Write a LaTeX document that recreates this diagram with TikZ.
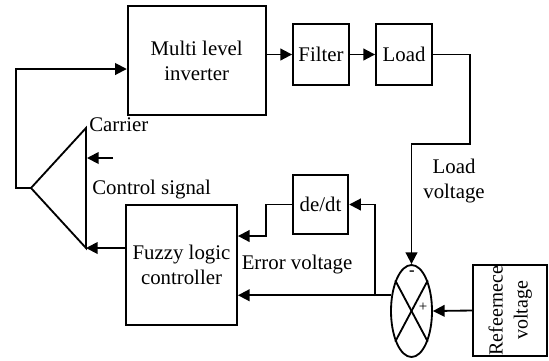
\documentclass[tikz,border=0pt]{standalone}
\usepackage{fontspec}
\setmainfont{Liberation Serif}
\usetikzlibrary{arrows.meta,shapes.geometric}
\tikzset{
	blk/.style={draw,line width=1.1pt,inner sep=0pt,align=center,font=\fontsize{12.5}{15}\selectfont},
	arr/.style={line width=1.1pt,-{Triangle[length=7pt,width=7pt]}},
	ln/.style={line width=1.1pt},
	lbl/.style={font=\fontsize{12.5}{15}\selectfont,inner sep=0pt,align=center}
}
\begin{document}
\begin{tikzpicture}[x=0.6pt,y=-0.6pt]
	\useasboundingbox (0,0) rectangle (549,360);
	% blocks
	\node[blk,minimum width=82.8pt,minimum height=65.4pt] (inv) at (196.7,60.5) {Multi level\\inverter};
	\node[blk,minimum width=33.6pt,minimum height=36.6pt] (filter) at (321,54.5) {Filter};
	\node[blk,minimum width=33.6pt,minimum height=36.6pt] (load) at (404,54.5) {Load};
	\node[blk,minimum width=33.3pt,minimum height=35.4pt] (dedt) at (320.5,204.5) {de/dt};
	\node[blk,minimum width=66.6pt,minimum height=72pt] (flc) at (181.5,265) {Fuzzy logic\\controller};
	\node[blk,minimum width=44.4pt,minimum height=54.6pt] (ref) at (510,310.5) {\rotatebox{90}{\fontsize{12}{15}\selectfont\begin{tabular}{@{}c@{}}Refeernece\\voltage\end{tabular}}};
	\node[blk,ellipse,minimum width=24.6pt,minimum height=55.2pt] (sum) at (411.5,311) {};
	\draw[ln] (sum.118) -- (sum.-62);
	\draw[ln] (sum.62) -- (sum.-118);
	\node[lbl,font=\bfseries] (minus) at (412,273) {-};
	\node[lbl,font=\small] (plus) at (423,307) {+};
	% comparator
	\coordinate (ttop) at (86,128);
	\coordinate (tbot) at (86,248);
	\coordinate (tap) at (31,188);
	\coordinate (fb) at (16,188);
	\coordinate (cs) at (113,158);
	\coordinate (csend) at (87,158);
	\draw[ln] (ttop) -- (tbot) -- (tap) -- cycle;
	\draw[arr] (tap) -- (fb) |- (inv.west |- 0,69);
	\draw[arr] (cs) -- (csend);
	\draw[arr] (flc.west |- tbot) -- (tbot);
	% forward path
	\draw[arr] (inv.east |- filter.west) -- (filter.west);
	\draw[arr] (filter) -- (load);
	\coordinate (bend) at (470,144);
	\draw[arr] (load.east) -| (bend) -| (sum.north);
	\draw[arr] (ref.west) -- (sum.east);
	% error paths
	\coordinate (br) at (375,296);
	\coordinate (dj) at (266,236);
	\draw[arr] (sum.142) -- (sum.142 -| flc.east);
	\draw[arr] (br) |- (dedt.east);
	\draw[arr] (dedt.west) -| (dj) -- (dj -| flc.east);
	% labels
	\node[lbl,anchor=west] (carrier) at (89,125) {Carrier};
	\node[lbl,anchor=west] (ctrl) at (92,190) {Control signal};
	\node[lbl] (lv) at (454,181) {Load\\voltage};
	\node[lbl] (ev) at (297,265) {Error voltage};
\end{tikzpicture}
\end{document}
